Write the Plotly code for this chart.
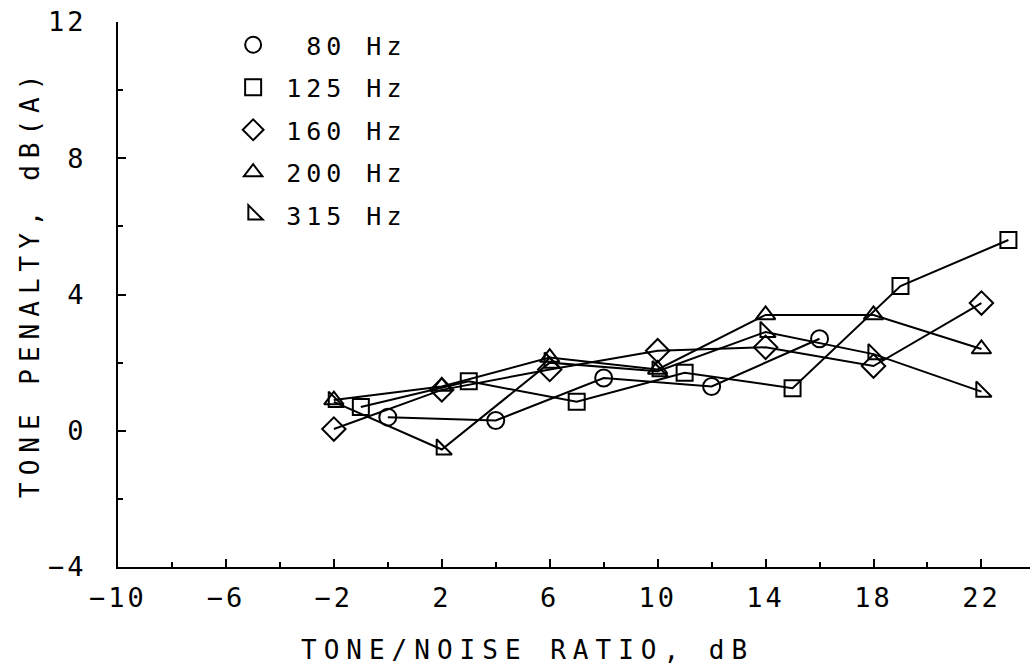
import plotly.graph_objects as go

# ---- data ----
x80 = [0, 4, 8, 12, 16]
y80 = [0.4, 0.3, 1.55, 1.3, 2.7]

x125 = [-1, 3, 7, 11, 15, 19, 23]
y125 = [0.7, 1.45, 0.85, 1.7, 1.25, 4.25, 5.6]

x160 = [-2, 2, 6, 10, 14, 18, 22]
y160 = [0.05, 1.2, 1.8, 2.35, 2.45, 1.9, 3.75]

x200 = [-2, 2, 6, 10, 14, 18, 22]
y200 = [0.9, 1.3, 2.15, 1.8, 3.4, 3.4, 2.4]

x315 = [-2, 2, 6, 10, 14, 18, 22]
y315 = [0.85, -0.55, 2.0, 1.75, 2.9, 2.25, 1.15]

series_names = ["\u00a080 Hz", "125 Hz", "160 Hz", "200 Hz", "315 Hz"]
x_tick_vals = [-10, -6, -2, 2, 6, 10, 14, 18, 22]
y_tick_vals = [-4, 0, 4, 8, 12]
x_title = "TONE/NOISE RATIO, dB"
y_title = "TONE PENALTY, dB(A)"

FONT = "DejaVu Sans Mono"
symbols = ["circle-open", "square-open", "diamond-open", "triangle-up-open", "triangle-sw-open"]
sizes = [17, 16, 18, 17, 17]
xs = [x80, x125, x160, x200, x315]
ys = [y80, y125, y160, y200, y315]


def spaced(t, px):
    return '<span style="letter-spacing:%dpx">%s</span>' % (px, t)


def fmt(v):
    return ("\u2212" + str(abs(v))) if v < 0 else str(v)


fig = go.Figure()
for i in range(5):
    fig.add_trace(go.Scatter(
        x=xs[i], y=ys[i], mode="lines+markers", showlegend=False,
        line=dict(color="black", width=2),
        marker=dict(symbol=symbols[i], size=sizes[i], color="black",
                    line=dict(color="black", width=2)),
    ))
# legend-only entries (marker only)
for i in range(5):
    fig.add_trace(go.Scatter(
        x=[None], y=[None], mode="markers",
        name=spaced(series_names[i], 5),
        legendgroup=str(i),
        marker=dict(symbol=symbols[i], size=sizes[i], color="black",
                    line=dict(color="black", width=2)),
    ))

axis_common = dict(
    showline=True, linecolor="black", linewidth=2,
    ticks="inside", ticklen=8, tickwidth=2, tickcolor="black",
    showgrid=False, zeroline=False,
    tickfont=dict(family=FONT, size=27, color="black"),
    minor=dict(ticks="inside", ticklen=5, tickwidth=2, tickcolor="black", dtick=2, showgrid=False),
)

fig.update_xaxes(range=[-10, 23.8], tickmode="array", tickvals=x_tick_vals,
                 ticktext=[spaced(fmt(v), 3) for v in x_tick_vals],
                 ticklabelstandoff=6, **axis_common)
fig.update_yaxes(range=[-4, 12], tickmode="array", tickvals=y_tick_vals,
                 ticktext=[spaced(fmt(v), 3) for v in y_tick_vals],
                 ticklabelstandoff=24, **axis_common)

fig.update_layout(
    width=1030, height=669,
    margin=dict(l=118, r=0, t=22, b=102),
    paper_bgcolor="white", plot_bgcolor="white",
    font=dict(family=FONT, color="black"),
    legend=dict(x=0.112, y=1.0, xanchor="left", yanchor="top",
                font=dict(family=FONT, size=25, color="black"),
                tracegroupgap=7, bgcolor="rgba(0,0,0,0)",
                itemwidth=56),
    annotations=[
        dict(text=spaced(x_title, 7),
             xref="paper", yref="paper", x=(527 - 118) / 912, y=-(650 - 567) / 545,
             xanchor="center", yanchor="middle", showarrow=False,
             font=dict(family=FONT, size=26, color="black")),
        dict(text=spaced(y_title, 7),
             xref="paper", yref="paper", x=-(118 - 30) / 912, y=(567 - 283) / 545,
             xanchor="center", yanchor="middle", showarrow=False, textangle=-90,
             font=dict(family=FONT, size=26, color="black")),
    ],
)

fig.write_html("out.html")
